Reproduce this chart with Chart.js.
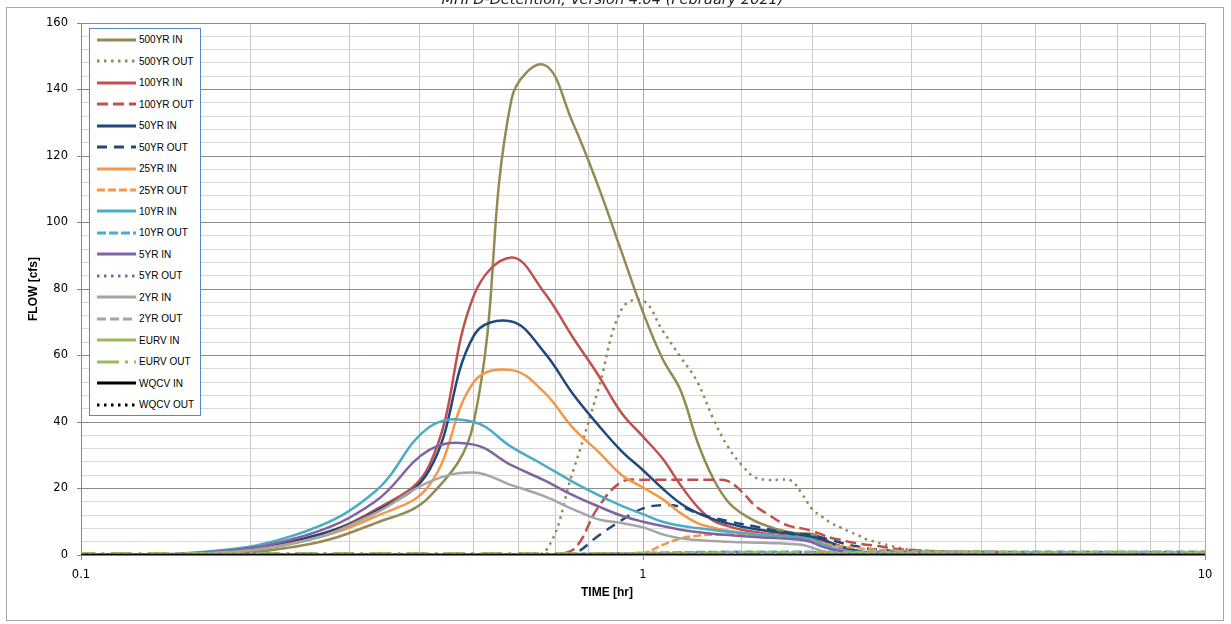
<!DOCTYPE html>
<html>
<head>
<meta charset="utf-8">
<script src="https://cdn.jsdelivr.net/npm/chart.js@4.4.1/dist/chart.umd.min.js"></script>
<style>
  html, body { margin: 0; padding: 0; background: #fff; }
  #wrap { position: relative; width: 1231px; height: 624px; overflow: hidden; }
  #frame { position: absolute; left: 6px; top: 7px; width: 1216px; height: 612px; border: 1px solid #a6a6a6; }
  #title { position: absolute; left: -3px; width: 1231px; top: -9px; line-height: 17px; text-align: center;
           font: italic 14.5px "DejaVu Sans", sans-serif; color: #222; }
  #chart { position: absolute; left: 0; top: 0; }
  #legend { position: absolute; left: 89px; top: 28px; width: 110px; height: 386px;
            border: 1px solid #5b87c5; background: #fff; }
  #legend .row { position: absolute; left: 7px; height: 21.47px; display: flex; align-items: center; }
  #legend svg { display: block; margin-right: 3px; }
  #legend span { font: 10px "Liberation Sans", Arial, sans-serif; color: #000; white-space: nowrap; }
</style>
</head>
<body>
<div id="wrap">
  <div id="frame"></div>
  <canvas id="chart" width="1231" height="624"></canvas>
  <div id="title">MHFD-Detention, Version 4.04 (February 2021)</div>
  <div id="legend"></div>
</div>
<script>
// time of each hydrograph ordinate [hr]
const times = [0.0833, 0.1667, 0.25, 0.3333, 0.4167, 0.5, 0.5833, 0.6667, 0.75, 0.8333, 0.9167, 1.0,
  1.0833, 1.1667, 1.25, 1.3333, 1.4167, 1.5, 1.5833, 1.6667, 1.75, 1.8333, 1.9167, 2.0,
  2.0833, 2.1667, 2.25, 2.3333, 2.4167, 2.5, 2.5833, 2.6667, 2.75, 3.0, 3.5, 4.0, 5.0, 6.0, 8.0, 10.0, 12.0];

// flows [cfs]
const in500 = [0, 0.2, 3, 9.5, 17.5, 40, 137, 147.4, 130, 110.7, 91, 73, 59, 49.5, 34, 23, 16, 12.5, 10.2, 8.7, 7.5, 6.8, 6.5, 6.3,
  5.0, 3.6, 2.6, 1.8, 1.2, 0.7, 0.4, 0.2, 0, 0, 0, 0, 0, 0, 0, 0, 0];
const out500 = [0, 0, 0, 0, 0, 0, 0, 0.5, 25, 50, 74, 76.5, 67.5, 59.5, 52, 41, 32.5, 27, 23.3, 22.6, 22.6, 22.4, 18.5, 13.8,
  11.5, 9.5, 8.2, 7, 5.9, 4.7, 4, 3.4, 2.8, 1.6, 1.0, 0.9, 0.8, 0.8, 0.7, 0.7, 0.7];
const in100 = [0, 0.5, 5, 13.5, 27, 78, 89.5, 79, 65.5, 54, 42.6, 35.6, 29, 21, 14.5, 10.3, 8.7, 7.6, 6.9, 6.4, 6.0, 5.7, 5.3, 5.0,
  4.3, 3.3, 2.4, 1.7, 1.1, 0.7, 0.4, 0.2, 0, 0, 0, 0, 0, 0, 0, 0, 0];
const out100 = [0, 0, 0, 0, 0, 0, 0, 0, 1.5, 14.5, 22, 22.6, 22.6, 22.6, 22.6, 22.6, 22.2, 19, 14.8, 12.3, 10, 8.6, 8, 7.2,
  6.1, 5.1, 4.5, 3.9, 3.5, 3.1, 2.8, 2.5, 2.1, 1.5, 1.0, 0.9, 0.8, 0.8, 0.7, 0.7, 0.7];
const in50 = [0, 0.5, 5, 13, 25.5, 66, 70.2, 61, 48.5, 39, 31.2, 25.5, 20, 15.5, 12.7, 10.8, 9.5, 8.5, 7.8, 7.2, 6.8, 6.4, 6.0, 5.5,
  4.8, 3.5, 2.6, 1.8, 1.2, 0.7, 0.4, 0.2, 0, 0, 0, 0, 0, 0, 0, 0, 0];
const out50 = [0, 0, 0, 0, 0, 0, 0, 0, 0.3, 5.8, 10.5, 14, 15, 14.5, 12.6, 11.2, 10.2, 9.3, 8.6, 7.8, 7.1, 6.6, 6.3, 6.0,
  5.2, 4.4, 3.7, 3.0, 2.5, 2.0, 1.7, 1.5, 1.3, 1.0, 0.9, 0.9, 0.8, 0.8, 0.7, 0.7, 0.7];
const in25 = [0, 0.5, 4.3, 11.5, 21, 52, 55.6, 49, 38.3, 31, 24, 20.3, 16.8, 12.6, 9.6, 8.2, 7.3, 6.7, 6.3, 6.0, 5.7, 5.4, 5.0, 4.3,
  3.0, 2.0, 1.3, 0.8, 0.4, 0.2, 0, 0, 0, 0, 0, 0, 0, 0, 0, 0, 0];
const out25 = [0, 0, 0, 0, 0, 0, 0, 0, 0, 0.2, 0.3, 0.5, 3.0, 5.0, 5.8, 6.1, 6.2, 6.2, 6.1, 6.0, 5.7, 5.3, 4.8, 4.2,
  3.5, 3.0, 2.6, 2.3, 2.0, 1.8, 1.6, 1.5, 1.4, 1.2, 1.0, 1.0, 0.9, 0.9, 0.9, 0.9, 0.9];
const in10 = [0, 1.0, 7, 19, 38.5, 40, 32.5, 27, 22, 18, 14.8, 12.3, 10.0, 8.8, 8.1, 7.5, 7.0, 6.6, 6.2, 5.9, 5.7, 5.4, 5.1, 4.7,
  3.3, 2.3, 1.6, 1.1, 0.7, 0.4, 0.2, 0, 0, 0, 0, 0, 0, 0, 0, 0, 0];
const out10 = [0, 0, 0, 0, 0, 0, 0, 0.2, 0.3, 0.4, 0.5, 0.6, 0.7, 0.8, 0.9, 0.9, 1.0, 1.0, 1.0, 1.0, 1.0, 1.0, 1.0, 1.0,
  1.0, 1.0, 1.0, 1.0, 1.0, 1.0, 1.0, 1.0, 1.0, 1.0, 1.0, 1.0, 1.0, 1.0, 1.0, 1.0, 1.0];
const in5 = [0, 0.8, 5.8, 16, 31.6, 33.2, 27, 22.5, 18, 14.6, 11.8, 10, 8.7, 7.6, 6.9, 6.4, 6.0, 5.7, 5.4, 5.2, 5.0, 4.8, 4.5, 3.8,
  2.5, 1.7, 1.1, 0.7, 0.4, 0.2, 0, 0, 0, 0, 0, 0, 0, 0, 0, 0, 0];
const out5 = [0, 0, 0, 0, 0, 0, 0, 0.1, 0.2, 0.3, 0.4, 0.5, 0.6, 0.6, 0.7, 0.7, 0.8, 0.8, 0.8, 0.8, 0.8, 0.8, 0.8, 0.8,
  0.8, 0.8, 0.8, 0.8, 0.8, 0.8, 0.8, 0.8, 0.8, 0.8, 0.8, 0.8, 0.8, 0.8, 0.8, 0.8, 0.8];
const in2 = [0, 0.5, 4.2, 12.5, 22, 24.8, 21, 17.7, 13.8, 10.7, 9.6, 8.3, 6.2, 5.0, 4.5, 4.2, 4.0, 3.8, 3.7, 3.6, 3.5, 3.3, 3.1, 2.2,
  1.2, 0.7, 0.4, 0.2, 0, 0, 0, 0, 0, 0, 0, 0, 0, 0, 0, 0, 0];
const out2 = [0, 0, 0, 0, 0, 0, 0.1, 0.2, 0.3, 0.4, 0.5, 0.6, 0.6, 0.7, 0.7, 0.7, 0.8, 0.8, 0.8, 0.8, 0.8, 0.8, 0.8, 0.8,
  0.8, 0.8, 0.8, 0.8, 0.8, 0.8, 0.8, 0.8, 0.8, 0.8, 0.8, 0.8, 0.8, 0.8, 0.8, 0.8, 0.8];
const inEURV = [0, 0, 0, 0, 0, 0, 0, 0, 0, 0, 0, 0, 0, 0, 0, 0, 0, 0, 0, 0, 0, 0, 0, 0,
  0, 0, 0, 0, 0, 0, 0, 0, 0, 0, 0, 0, 0, 0, 0, 0, 0];
const outEURV = [0.5, 0.5, 0.5, 0.5, 0.5, 0.5, 0.5, 0.5, 0.5, 0.5, 0.5, 0.5, 0.5, 0.5, 0.5, 0.5, 0.5, 0.5, 0.5, 0.5, 0.5, 0.5, 0.5, 0.5,
  0.5, 0.5, 0.5, 0.5, 0.5, 0.5, 0.5, 0.5, 0.5, 0.5, 0.5, 0.5, 0.5, 0.5, 0.5, 0.5, 0.5];
const inWQCV = [0, 0, 0, 0, 0, 0, 0, 0, 0, 0, 0, 0, 0, 0, 0, 0, 0, 0, 0, 0, 0, 0, 0, 0,
  0, 0, 0, 0, 0, 0, 0, 0, 0, 0, 0, 0, 0, 0, 0, 0, 0];
const outWQCV = [0, 0, 0, 0, 0, 0, 0, 0, 0, 0, 0, 0, 0, 0, 0, 0, 0, 0, 0, 0, 0, 0, 0, 0,
  0, 0, 0, 0, 0, 0, 0, 0, 0, 0, 0, 0, 0, 0, 0, 0, 0];

const yTicks = [0, 20, 40, 60, 80, 100, 120, 140, 160];
const xTickLabels = ['0.1', '1', '10'];

// line styles, same order as the legend
const DOT = [2.5, 4.5];
const series = [
  { label: '500YR IN',  data: in500,   color: '#948A54', dash: [] },
  { label: '500YR OUT', data: out500,  color: '#948A54', dash: DOT },
  { label: '100YR IN',  data: in100,   color: '#C0504D', dash: [] },
  { label: '100YR OUT', data: out100,  color: '#C0504D', dash: [11, 5] },
  { label: '50YR IN',   data: in50,    color: '#1F497D', dash: [] },
  { label: '50YR OUT',  data: out50,   color: '#1F497D', dash: [10, 7] },
  { label: '25YR IN',   data: in25,    color: '#F79646', dash: [] },
  { label: '25YR OUT',  data: out25,   color: '#F79646', dash: [8, 3] },
  { label: '10YR IN',   data: in10,    color: '#4BACC6', dash: [] },
  { label: '10YR OUT',  data: out10,   color: '#4BACC6', dash: [9, 3] },
  { label: '5YR IN',    data: in5,     color: '#8064A2', dash: [] },
  { label: '5YR OUT',   data: out5,    color: '#8064A2', dash: DOT },
  { label: '2YR IN',    data: in2,     color: '#A5A5A5', dash: [] },
  { label: '2YR OUT',   data: out2,    color: '#A5A5A5', dash: [9, 4] },
  { label: 'EURV IN',   data: inEURV,  color: '#9BBB59', dash: [] },
  { label: 'EURV OUT',  data: outEURV, color: '#9BBB59', dash: [22, 6, 3, 6] },
  { label: 'WQCV IN',   data: inWQCV,  color: '#000000', dash: [] },
  { label: 'WQCV OUT',  data: outWQCV, color: '#000000', dash: DOT }
];

const isDecade = v => Math.abs(Math.log10(v) - Math.round(Math.log10(v))) < 1e-6;

// axis titles sit where the spreadsheet put them
const axisTitles = {
  id: 'axisTitles',
  afterDraw(chart) {
    const { ctx, chartArea } = chart;
    ctx.save();
    ctx.fillStyle = '#000';
    ctx.font = 'bold 12px "Liberation Sans", Arial, sans-serif';
    ctx.textAlign = 'center';
    ctx.textBaseline = 'middle';
    ctx.fillText('TIME [hr]', 607, 593);
    ctx.translate(34, (chartArea.top + chartArea.bottom) / 2);
    ctx.rotate(-Math.PI / 2);
    ctx.fillText('FLOW [cfs]', 0, 0);
    ctx.restore();
  }
};

const chart = new Chart(document.getElementById('chart'), {
  type: 'line',
  data: {
    datasets: series.map((s, i) => ({
      label: s.label,
      data: times.map((t, k) => ({ x: t, y: s.data[k] })),
      borderColor: s.color,
      backgroundColor: s.color,
      borderDash: s.dash,
      borderWidth: 2.5,
      pointRadius: 0,
      fill: false,
      tension: 0.4,
      order: series.length - i
    }))
  },
  options: {
    responsive: false,
    animation: false,
    events: [],
    layout: { padding: { top: 23, right: 26, bottom: 0, left: 0 } },
    plugins: { legend: { display: false }, tooltip: { enabled: false } },
    scales: {
      x: {
        type: 'logarithmic',
        min: 0.1,
        max: 10,
        afterFit: s => { s.height = 69; },
        border: { color: '#868686' },
        grid: {
          color: c => isDecade(c.tick.value) ? '#a8a8a8' : '#c8c8c8',
          tickColor: c => isDecade(c.tick.value) ? '#868686' : 'rgba(0,0,0,0)',
          tickLength: 5
        },
        ticks: {
          autoSkip: false,
          maxRotation: 0,
          padding: 8,
          color: '#000',
          font: { family: 'DejaVu Sans', size: 11.5 },
          callback: v => isDecade(v) ? xTickLabels[Math.round(Math.log10(v)) + 1] : ''
        }
      },
      y: {
        min: yTicks[0],
        max: yTicks[yTicks.length - 1],
        afterFit: s => { s.width = 81; },
        border: { color: '#868686' },
        grid: {
          color: c => yTicks.includes(c.tick.value) ? '#8c8c8c' : '#d9d9d9',
          tickColor: c => yTicks.includes(c.tick.value) ? '#868686' : 'rgba(0,0,0,0)',
          tickLength: 4
        },
        ticks: {
          autoSkip: false,
          stepSize: 4,
          padding: 9,
          color: '#000',
          font: { family: 'DejaVu Sans', size: 11.5 },
          callback: v => yTicks.includes(v) ? String(v) : ''
        }
      }
    }
  },
  plugins: [axisTitles]
});

// legend box drawn from the datasets
const legendBox = document.getElementById('legend');
chart.data.datasets.forEach((ds, i) => {
  const row = document.createElement('div');
  row.className = 'row';
  row.style.top = (i * 21.47) + 'px';
  const dash = ds.borderDash.length ? ds.borderDash.join(' ') : 'none';
  row.innerHTML = '<svg width="39" height="6"><line x1="0" y1="3" x2="39" y2="3" stroke="' + ds.borderColor +
    '" stroke-width="3" stroke-dasharray="' + dash + '"/></svg><span>' + ds.label + '</span>';
  legendBox.appendChild(row);
});
</script>
</body>
</html>
